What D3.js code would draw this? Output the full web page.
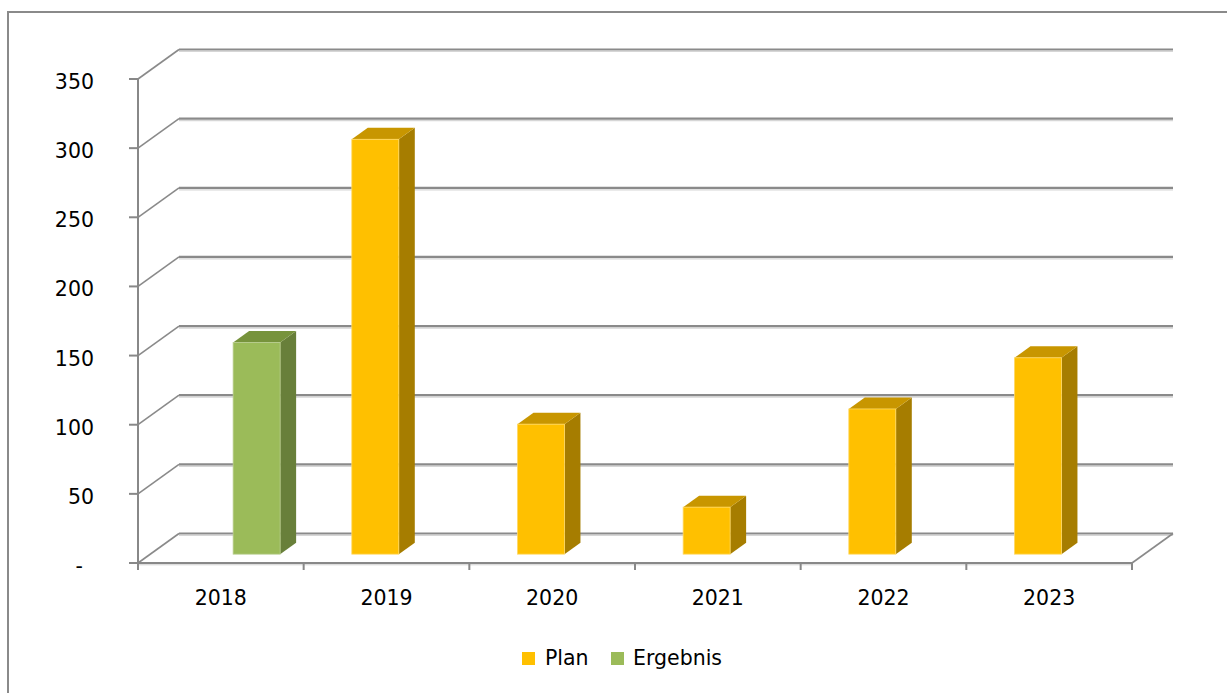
<!DOCTYPE html>
<html><head><meta charset="utf-8">
<script src="https://cdn.jsdelivr.net/npm/d3@7"></script>
<style>html,body{margin:0;padding:0;background:#fff;}svg{display:block;}</style>
</head><body>
<svg id="chart" width="1227" height="693"></svg>
<script>
const years = ["2018","2019","2020","2021","2022","2023"];
const seriesNames = ["Plan","Ergebnis"];
const planValues = [null, 300, 94, 34, 105, 142];
const ergebnisValues = [153, null, null, null, null, null];
const yTicks = [0,50,100,150,200,250,300,350];
const yTickLabels = ["-","50","100","150","200","250","300","350"];
const colors = {
  Plan: {front:"#FFC000", side:"#A67D00", top:"#C89600", edge:"#FFD966"},
  Ergebnis: {front:"#9BBB59", side:"#687F3A", top:"#77933C", edge:"#B9CE8E"}
};

const svg = d3.select("#chart");
const FONT = "'DejaVu Sans', sans-serif";
const FS = 20.5;
const left = 138, right = 1132, base = 563, topY = 79;
const DX = 41, DY = -29.5;           // depth of the 3D box
const BF = 0.3;                       // bar front plane depth fraction
const BD = 0.39;                      // bar thickness depth fraction

const y = d3.scaleLinear().domain([0,350]).range([base, topY]);
const xCat = d3.scaleBand().domain(years).range([left, right]).padding(0);
const x0 = d3.scaleBand().domain(years).range([left, right]).paddingInner(0.4326).paddingOuter(0.2163);
const x1 = d3.scaleBand().domain(seriesNames).range([0, x0.bandwidth()]);

// outer frame
svg.append("rect").attr("x",8).attr("y",12).attr("width",1240).attr("height",700)
  .attr("fill","none").attr("stroke","#8a8a8a").attr("stroke-width",2);

const grid = svg.append("g");
const gridColor = "#8a8a8a", gridLight = "#d6d6d6";
yTicks.forEach(v => {
  const yf = y(v), yb = y(v) + DY;
  grid.append("line").attr("x1",left+DX).attr("x2",right+DX).attr("y1",yb+2).attr("y2",yb+2)
    .attr("stroke",gridLight).attr("stroke-width",1.2);
  grid.append("line").attr("x1",left).attr("y1",yf).attr("x2",left+DX).attr("y2",yb)
    .attr("stroke",gridColor).attr("stroke-width",1.6);
  grid.append("line").attr("x1",left+DX).attr("x2",right+DX).attr("y1",yb).attr("y2",yb)
    .attr("stroke",gridColor).attr("stroke-width",2.2);
});
grid.append("line").attr("x1",right).attr("y1",base).attr("x2",right+DX).attr("y2",base+DY)
  .attr("stroke",gridColor).attr("stroke-width",1.6);

// axes
const axisColor = "#888888";
svg.append("line").attr("x1",left).attr("x2",left).attr("y1",topY).attr("y2",base+1)
  .attr("stroke",axisColor).attr("stroke-width",2);
svg.append("line").attr("x1",left-1).attr("x2",right).attr("y1",base).attr("y2",base)
  .attr("stroke",axisColor).attr("stroke-width",2);
svg.append("line").attr("x1",left).attr("x2",right).attr("y1",base+1.8).attr("y2",base+1.8)
  .attr("stroke","#cfcfcf").attr("stroke-width",1);
yTicks.forEach((v,i) => {
  svg.append("line").attr("x1",left-9).attr("x2",left).attr("y1",y(v)).attr("y2",y(v))
    .attr("stroke",axisColor).attr("stroke-width",2);
  const isZero = v === 0;
  svg.append("text").attr("x", isZero ? 83 : 94).attr("y", y(v) + 10)
    .attr("text-anchor","end").attr("font-family",FONT).attr("font-size",FS)
    .attr("fill","#000").text(yTickLabels[i]);
});
years.concat(["end"]).forEach((d,i) => {
  const xx = left + i * xCat.step();
  svg.append("line").attr("x1",xx).attr("x2",xx).attr("y1",base).attr("y2",base+7)
    .attr("stroke",axisColor).attr("stroke-width",2);
});
years.forEach(d => {
  svg.append("text").attr("x", xCat(d) + xCat.bandwidth()/2).attr("y",605)
    .attr("text-anchor","middle").attr("font-family",FONT).attr("font-size",FS)
    .attr("fill","#000").text(d);
});

// bars
const bars = [];
years.forEach((d,i) => {
  if (planValues[i] != null) bars.push({year:d, s:"Plan", v:planValues[i]});
  if (ergebnisValues[i] != null) bars.push({year:d, s:"Ergebnis", v:ergebnisValues[i]});
});
const bdx = DX*BD, bdy = DY*BD;
const gb = svg.append("g");
bars.forEach(b => {
  const c = colors[b.s];
  const bx = x0(b.year) + x1(b.s) + DX*BF;
  const bw = x1.bandwidth();
  const by0 = y(0) + DY*BF;
  const byt = y(b.v) + DY*BF;
  gb.append("path").attr("d", `M${bx+bw},${by0} L${bx+bw},${byt} L${bx+bw+bdx},${byt+bdy} L${bx+bw+bdx},${by0+bdy} Z`)
    .attr("fill", c.side);
  gb.append("path").attr("d", `M${bx},${byt} L${bx+bdx},${byt+bdy} L${bx+bw+bdx},${byt+bdy} L${bx+bw},${byt} Z`)
    .attr("fill", c.top);
  gb.append("rect").attr("x",bx).attr("y",byt).attr("width",bw).attr("height",by0-byt)
    .attr("fill",c.front).attr("stroke",c.edge).attr("stroke-width",0.8);
});

// legend
const legend = [{s:"Plan", x:522, tx:545},{s:"Ergebnis", x:611, tx:633}];
legend.forEach(l => {
  svg.append("rect").attr("x",l.x).attr("y",652).attr("width",13).attr("height",13)
    .attr("fill",colors[l.s].front);
  svg.append("text").attr("x",l.tx).attr("y",665).attr("font-family",FONT).attr("font-size",FS)
    .attr("fill","#000").text(l.s);
});
</script>
</body></html>
